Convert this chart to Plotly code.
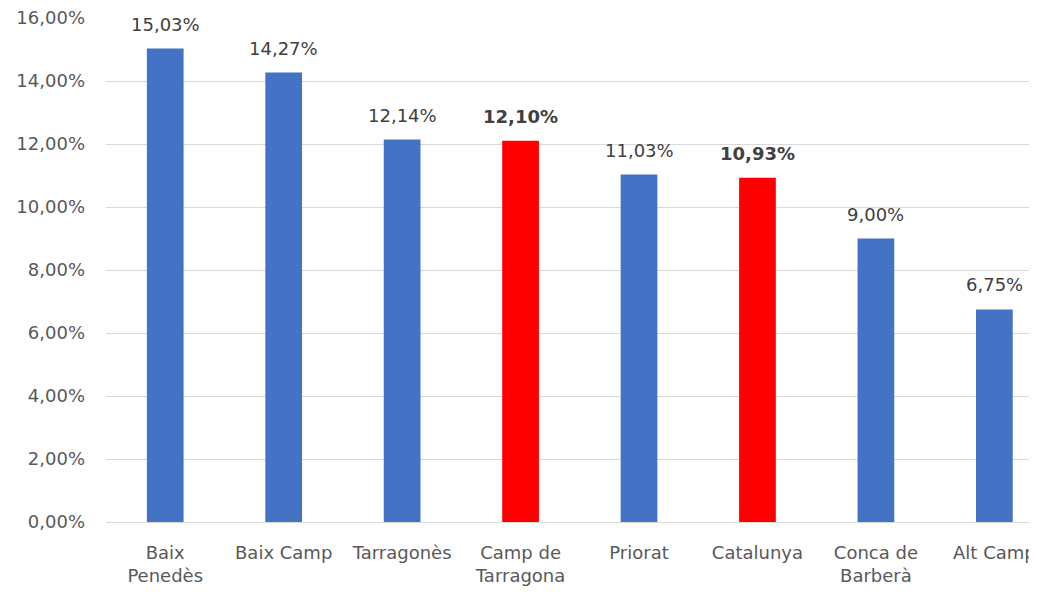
import plotly.graph_objects as go

categories = ["Baix<br>Penedès", "Baix Camp", "Tarragonès", "Camp de<br>Tarragona",
              "Priorat", "Catalunya", "Conca de<br>Barberà", "Alt Camp"]
values = [15.03, 14.27, 12.14, 12.10, 11.03, 10.93, 9.00, 6.75]
highlight = [False, False, False, True, False, True, False, False]
tick_vals = [0, 2, 4, 6, 8, 10, 12, 14, 16]
tick_text = ["0,00%", "2,00%", "4,00%", "6,00%", "8,00%", "10,00%", "12,00%", "14,00%", "16,00%"]

BLUE = "#4472C4"
RED = "#FF0000"
FONT = "DejaVu Sans"
colors = [RED if h else BLUE for h in highlight]
xs = list(range(len(categories)))

fig = go.Figure()
fig.add_trace(go.Bar(x=xs, y=values, marker=dict(color=colors, line=dict(width=0)),
                     width=0.31, hoverinfo="skip"))

annotations = []
for x, v, h in zip(xs, values, highlight):
    s = f"{v:.2f}%".replace(".", ",")
    if h:
        s = f"<b>{s}</b>"
    annotations.append(dict(x=x, y=v, text=s, showarrow=False, yanchor="bottom",
                            yshift=12, font=dict(size=18, color="#404040", family=FONT)))

fig.update_layout(
    width=1029, height=588,
    margin=dict(l=98, r=0, t=10, b=74),
    plot_bgcolor="white", paper_bgcolor="white",
    showlegend=False,
    annotations=annotations,
    font=dict(family=FONT, size=18, color="#595959"),
    xaxis=dict(range=[-0.5, 7.36], tickmode="array", tickvals=xs, ticktext=categories,
               showgrid=False, showline=False, zeroline=False, ticks="",
               ticklabelstandoff=18,
               tickfont=dict(size=18, color="#595959", family=FONT)),
    yaxis=dict(range=[0, 16], tickmode="array", tickvals=tick_vals, ticktext=tick_text,
               showgrid=True, gridcolor="#D9D9D9", gridwidth=1,
               zeroline=True, zerolinecolor="#D9D9D9", zerolinewidth=1,
               showline=False, ticks="", ticklabelstandoff=20,
               ticklabeloverflow="allow",
               tickfont=dict(size=18, color="#595959", family=FONT)),
)

fig.write_html("out.html")
